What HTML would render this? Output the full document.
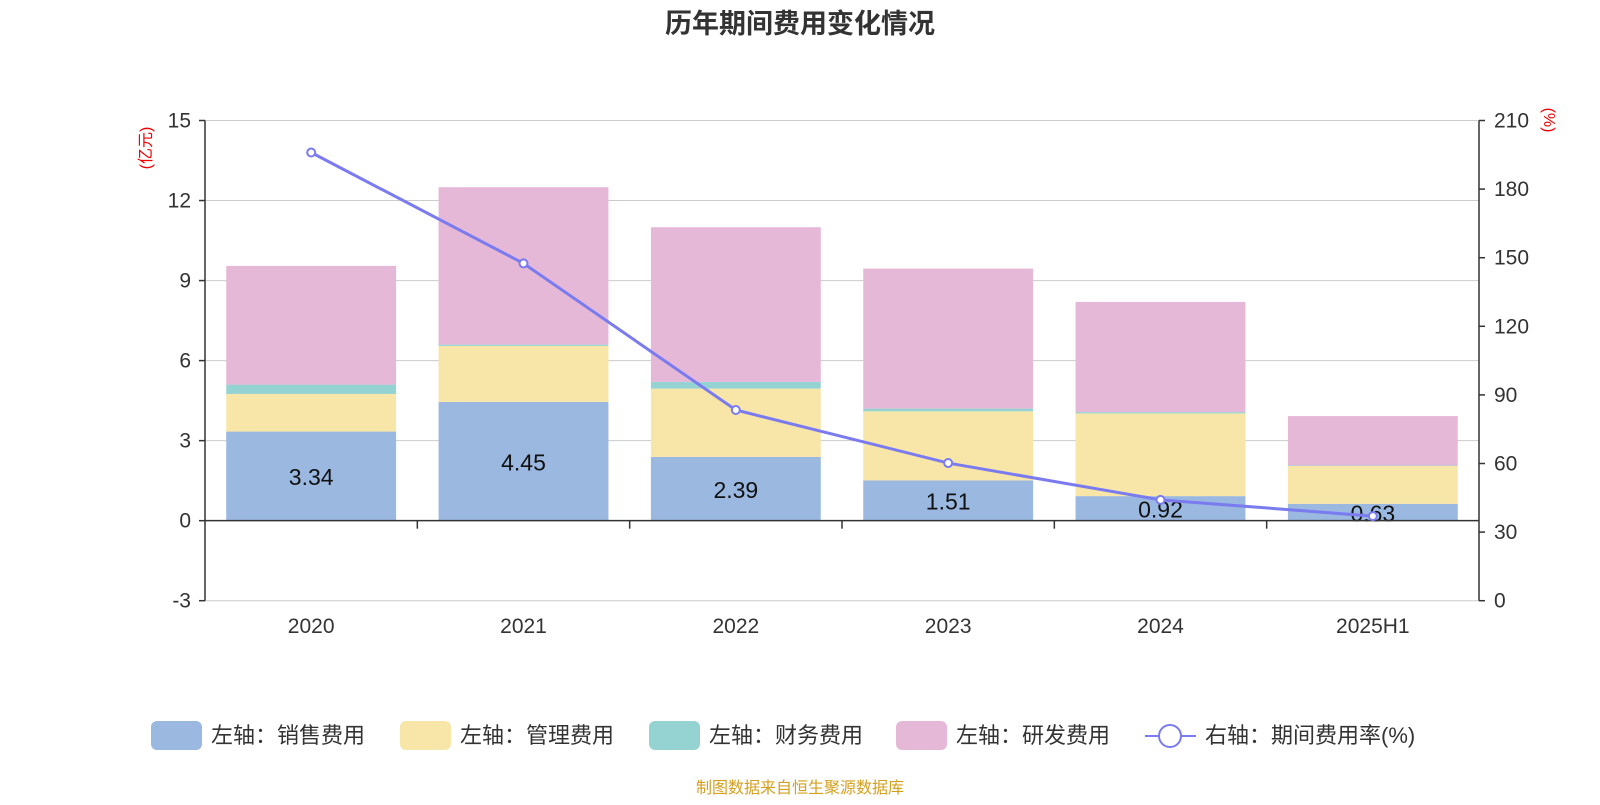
<!DOCTYPE html>
<html><head><meta charset="utf-8">
<style>
body{margin:0;background:#fff;font-family:"Liberation Sans","Noto Sans CJK SC",sans-serif;}
svg text{font-family:"Liberation Sans","Noto Sans CJK SC",sans-serif;}
</style></head>
<body>
<svg id="chart" width="1600" height="800" viewBox="0 0 1600 800" xmlns="http://www.w3.org/2000/svg">
<text x="800" y="33" text-anchor="middle" font-size="27" font-weight="bold" fill="#333">历年期间费用变化情况</text>
<g id="grid"></g><g id="bars"></g><g id="axes"></g><g id="line"></g>
<text transform="translate(151,148) rotate(-90)" text-anchor="middle" font-size="16" fill="#e00">(亿元)</text>
<text transform="translate(1544,120) rotate(90)" text-anchor="middle" font-size="16" fill="#e00">(%)</text>
<g id="legend"></g>
<text x="800" y="793" text-anchor="middle" font-size="16" fill="#d4a020">制图数据来自恒生聚源数据库</text>
</svg>
<script>
const categories=["2020","2021","2022","2023","2024","2025H1"];
const sales=[3.34,4.45,2.39,1.51,0.92,0.63];
const mgmt=[1.41,2.1,2.56,2.59,3.1,1.42];
const finance=[0.35,0.05,0.25,0.1,0.05,0.02];
const rnd=[4.45,5.9,5.8,5.25,4.13,1.85];
const rate=[196,147.5,83.4,60.2,44.1,37];
const leftTicks=[-3,0,3,6,9,12,15];
const rightTicks=[0,30,60,90,120,150,180,210];
const NS="http://www.w3.org/2000/svg";
const X0=205,X1=1479,YT=120.5,YB=600.7;
const yL=v=>YB-(v+3)/18*(YB-YT);
const yR=v=>YB-v/210*(YB-YT);
const bw=(X1-X0)/categories.length;
const xc=i=>X0+bw*(i+0.5);
function mk(p,tag,a){const e=document.createElementNS(NS,tag);for(const k in a)e.setAttribute(k,a[k]);document.getElementById(p).appendChild(e);return e;}
leftTicks.forEach(t=>{
 const y=yL(t);
 const g=mk("grid","line",{x1:X0,x2:X1,y1:y,y2:y,stroke:"#ccc","stroke-width":1});
 
 
 const l=mk("axes","text",{x:X0-14,y:y+7,"text-anchor":"end","font-size":21,fill:"#333"});l.textContent=t;
 
 
 mk("axes","line",{x1:X0-6,x2:X0,y1:y,y2:y,stroke:"#333","stroke-width":1.5});
});
rightTicks.forEach(t=>{
 const y=yR(t);
 const l=mk("axes","text",{x:X1+15,y:y+7,"font-size":21,fill:"#333"});l.textContent=t;
 
 
 mk("axes","line",{x1:X1,x2:X1+6,y1:y,y2:y,stroke:"#333","stroke-width":1.5});
});
mk("axes","line",{x1:X0,x2:X0,y1:YT,y2:YB,stroke:"#333","stroke-width":1.5});
mk("axes","line",{x1:X1,x2:X1,y1:YT,y2:YB,stroke:"#333","stroke-width":1.5});
mk("axes","line",{x1:X0,x2:X1,y1:yL(0),y2:yL(0),stroke:"#333","stroke-width":1.5});
const series=[[sales,"#9bb8e0","sales"],[mgmt,"#f7e6a8","mgmt"],[finance,"#95d3d3","finance"],[rnd,"#e6b8d8","rnd"]];
categories.forEach((c,i)=>{
 let base=0;
 series.forEach(([arr,col,nm])=>{
  const r=mk("bars","rect",{x:xc(i)-bw*0.4,width:bw*0.8,y:yL(base+arr[i]),height:yL(base)-yL(base+arr[i]),fill:col});
  
  
  base+=arr[i];
 });
 const t=mk("bars","text",{x:xc(i),y:yL(sales[i]/2)+9,"text-anchor":"middle","font-size":23,fill:"#111"});t.textContent=sales[i];
 
 
 const xl=mk("axes","text",{x:xc(i),y:633,"text-anchor":"middle","font-size":21,fill:"#333"});xl.textContent=c;
 
 
 if(i>0){mk("axes","line",{x1:X0+bw*i,x2:X0+bw*i,y1:yL(0),y2:yL(0)+8,stroke:"#333","stroke-width":1.5});}
});
const pl=mk("line","polyline",{points:rate.map((v,i)=>xc(i)+","+yR(v)).join(" "),fill:"none",stroke:"#7b7bf0","stroke-width":3});


rate.forEach((v,i)=>{
 const c=mk("line","circle",{cx:xc(i),cy:yR(v),r:4,fill:"#fff",stroke:"#7b7bf0","stroke-width":2});
 
 
});
const leg=[["左轴：销售费用","#9bb8e0",151],["左轴：管理费用","#f7e6a8",400],["左轴：财务费用","#95d3d3",649],["左轴：研发费用","#e6b8d8",896]];
leg.forEach(([t,col,x])=>{
 const r=mk("legend","rect",{x:x,y:721,width:51,height:29,rx:6,fill:col});
 
 
 const tx=mk("legend","text",{x:x+60,y:743,"font-size":22,fill:"#333"});tx.textContent=t;
 
 
});
mk("legend","line",{x1:1145,x2:1196,y1:736,y2:736,stroke:"#7b7bf0","stroke-width":2});
mk("legend","circle",{cx:1170,cy:736,r:11,fill:"#fff",stroke:"#7b7bf0","stroke-width":2});
const lt=mk("legend","text",{x:1205,y:743,"font-size":22,fill:"#333"});lt.textContent="右轴：期间费用率(%)";


</script>
</body></html>
